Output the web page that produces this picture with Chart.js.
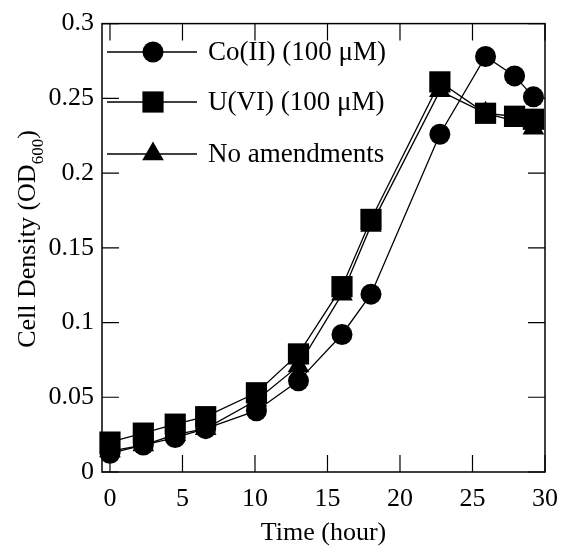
<!DOCTYPE html>
<html>
<head>
<meta charset="utf-8">
<script src="https://cdn.jsdelivr.net/npm/chart.js@4.4.1/dist/chart.umd.min.js"></script>
<style>
html,body{margin:0;padding:0;background:#fff;}
#c{display:block;}
</style>
</head>
<body>
<canvas id="c" width="570" height="549"></canvas>
<script>
// ---- data ----
const timeHours   = [0, 2.3, 4.5, 6.6, 10.1, 13.0, 16.0, 18.0, 22.75, 25.9, 27.9, 29.2];
const coValues    = [0.0125, 0.018, 0.023, 0.029, 0.041, 0.061, 0.092, 0.119, 0.226, 0.278, 0.265, 0.251];
const uValues     = [0.020, 0.026, 0.032, 0.037, 0.053, 0.079, 0.124, 0.169, 0.261, 0.240, 0.238, 0.236];
const noneValues  = [0.014, 0.018, 0.025, 0.029, 0.048, 0.071, 0.119, 0.165, 0.255, 0.240, 0.235, 0.230];
const seriesNames = ['Co(II) (100 \u03bcM)', 'U(VI) (100 \u03bcM)', 'No amendments'];
const xTickValues = [0, 5, 10, 15, 20, 25, 30];
const yTickValues = [0, 0.05, 0.1, 0.15, 0.2, 0.25, 0.3];
const yTickLabels = ['0', '0.05', '0.1', '0.15', '0.2', '0.25', '0.3'];
const xTitle = 'Time (hour)';
const yTitleMain = 'Cell Density (OD';
const yTitleSub = '600';
const yTitleEnd = ')';

const FONT = "'Liberation Serif','Times New Roman',serif";
const toXY = vals => timeHours.map((t, i) => ({x: t, y: vals[i]}));

function baseDs(label, vals, style, r, order) {
  return {
    label, data: toXY(vals), pointStyle: style, pointRadius: r, pointHoverRadius: r,
    borderColor: '#000', backgroundColor: '#000', pointBackgroundColor: '#000',
    pointBorderColor: '#000', pointBorderWidth: 0, borderWidth: 1.3,
    tension: 0, fill: false, clip: false, order
  };
}

function drawMarker(ctx, style, x, y) {
  ctx.beginPath();
  if (style === 'circle') {
    ctx.arc(x, y, 10.5, 0, Math.PI * 2);
  } else if (style === 'rect') {
    ctx.rect(x - 10.6, y - 10.6, 21.2, 21.2);
  } else {
    const r = 12.5;
    for (let k = 0; k < 3; k++) {
      const a = k * 2 * Math.PI / 3;
      const px = x + Math.sin(a) * r, py = y - Math.cos(a) * r;
      k ? ctx.lineTo(px, py) : ctx.moveTo(px, py);
    }
    ctx.closePath();
  }
  ctx.fill();
}

const framePlugin = {
  id: 'frame',
  beforeDatasetsDraw(chart) {
    const {ctx, chartArea: a, scales: {x, y}} = chart;
    ctx.save();
    ctx.strokeStyle = '#000';
    ctx.lineWidth = 1.5;
    ctx.strokeRect(a.left, a.top, a.right - a.left, a.bottom - a.top);
    ctx.lineWidth = 1.2;
    const L = 17;
    ctx.beginPath();
    xTickValues.forEach(v => {
      const px = x.getPixelForValue(v);
      ctx.moveTo(px, a.bottom); ctx.lineTo(px, a.bottom - L);
      ctx.moveTo(px, a.top); ctx.lineTo(px, a.top + L);
    });
    yTickValues.forEach(v => {
      const py = y.getPixelForValue(v);
      ctx.moveTo(a.left, py); ctx.lineTo(a.left + L, py);
      ctx.moveTo(a.right, py); ctx.lineTo(a.right - L, py);
    });
    ctx.stroke();
    ctx.restore();
  },
  afterDraw(chart) {
    const {ctx, chartArea: a} = chart;
    // legend inside plot, top-left
    const styles = ['circle', 'rect', 'triangle'];
    const rows = [52, 102, 154];
    ctx.save();
    ctx.fillStyle = '#000';
    ctx.strokeStyle = '#000';
    ctx.lineWidth = 1.3;
    for (let i = 0; i < 3; i++) {
      const yy = rows[i];
      ctx.beginPath();
      ctx.moveTo(a.left + 5, yy); ctx.lineTo(a.left + 95, yy);
      ctx.stroke();
      drawMarker(ctx, styles[i], a.left + 51, yy);
      ctx.font = '27px ' + FONT;
      ctx.textBaseline = 'middle';
      ctx.textAlign = 'left';
      ctx.fillText(seriesNames[i], a.left + 106, yy + 1);
    }
    // y axis title with subscript
    ctx.translate(35, 239);
    ctx.rotate(-Math.PI / 2);
    ctx.textBaseline = 'alphabetic';
    ctx.font = '26px ' + FONT;
    const w1 = ctx.measureText(yTitleMain).width;
    const w3 = ctx.measureText(yTitleEnd).width;
    ctx.font = '17px ' + FONT;
    const w2 = ctx.measureText(yTitleSub).width;
    let sx = -(w1 + w2 + w3) / 2;
    ctx.font = '26px ' + FONT;
    ctx.fillText(yTitleMain, sx, 0);
    ctx.font = '17px ' + FONT;
    ctx.fillText(yTitleSub, sx + w1, 8);
    ctx.font = '26px ' + FONT;
    ctx.fillText(yTitleEnd, sx + w1 + w2, 0);
    ctx.restore();
  }
};

new Chart(document.getElementById('c'), {
  type: 'line',
  data: {
    datasets: [
      baseDs(seriesNames[0], coValues, 'circle', 10.5, 1),
      baseDs(seriesNames[1], uValues, 'rect', 15, 0),
      baseDs(seriesNames[2], noneValues, 'triangle', 12.5, 2)
    ]
  },
  options: {
    responsive: false,
    animation: false,
    events: [],
    layout: {padding: {top: 21, right: 18, left: 0, bottom: 0}},
    plugins: {legend: {display: false}, tooltip: {enabled: false}},
    scales: {
      x: {
        type: 'linear', min: -0.55, max: 30,
        afterBuildTicks: s => { s.ticks = xTickValues.map(v => ({value: v})); },
        afterFit: s => { s.height = 77; },
        grid: {display: false, drawTicks: false},
        border: {display: false},
        ticks: {color: '#000', font: {family: FONT, size: 26}, padding: 12, maxRotation: 0, autoSkip: false},
        title: {display: true, text: xTitle, color: '#000', font: {family: FONT, size: 26}, padding: {top: 0, bottom: 0}}
      },
      y: {
        type: 'linear', min: 0, max: 0.3,
        afterBuildTicks: s => { s.ticks = yTickValues.map(v => ({value: v})); },
        afterFit: s => { s.width = 102; },
        grid: {display: false, drawTicks: false},
        border: {display: false},
        ticks: {color: '#000', font: {family: FONT, size: 26}, padding: 8, autoSkip: false,
          callback: v => yTickLabels[yTickValues.indexOf(v)]},
        title: {display: false}
      }
    }
  },
  plugins: [framePlugin]
});
</script>
</body>
</html>
